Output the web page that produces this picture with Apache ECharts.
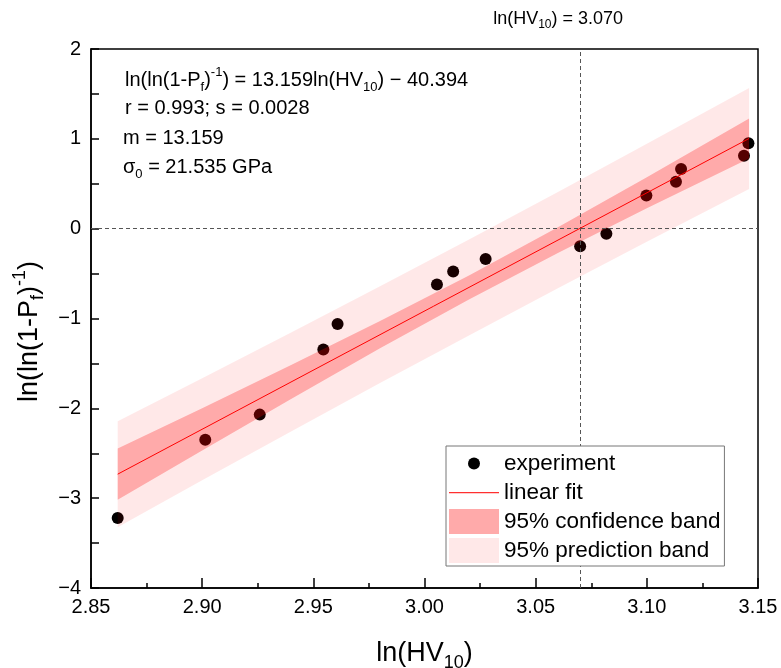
<!DOCTYPE html>
<html>
<head>
<meta charset="utf-8">
<script src="https://cdn.jsdelivr.net/npm/echarts@6/dist/echarts.min.js"></script>
<style>
  html, body { margin: 0; padding: 0; background: #fff; }
  #chart { width: 781px; height: 668px; }
</style>
</head>
<body>
<div id="chart"></div>
<script>
// measured points
const xExp = [2.862, 2.9014, 2.9259, 2.9545, 2.9609, 3.0056, 3.0129, 3.0275, 3.070, 3.0818, 3.0998, 3.1131, 3.1154, 3.1437, 3.1457];
const yExp = [-3.22, -2.35, -2.07, -1.344, -1.06, -0.622, -0.478, -0.337, -0.196, -0.056, 0.370, 0.522, 0.663, 0.811, 0.952];

// fit line ends
const fitX = [2.862, 3.146];
const fitY = [-2.733, 1.004];

// band edges, read along x
const bandX = [2.862, 2.90, 2.94, 2.98, 3.02, 3.06, 3.10, 3.146];
const confLow = [-3.018, -2.468, -1.895, -1.332, -0.788, -0.270, 0.227, 0.781];
const confHigh = [-2.448, -1.998, -1.518, -1.028, -0.520, 0.015, 0.571, 1.227];
const predLow = [-3.323, -2.801, -2.257, -1.719, -1.188, -0.664, -0.146, 0.441];
const predHigh = [-2.143, -1.665, -1.156, -0.641, -0.120, 0.409, 0.944, 1.567];

const vLineX = 3.070;
const hLineY = 0;

const FONT = 'Liberation Sans, Arial, sans-serif';

const chart = echarts.init(document.getElementById('chart'));

const richSmall = (size, lh) => ({
  a: { fontSize: size, fontFamily: FONT, color: '#000', lineHeight: lh },
  s: { fontSize: Math.round(size * 0.65), fontFamily: FONT, color: '#000', verticalAlign: 'bottom', lineHeight: Math.round(size * 0.65) },
  p: { fontSize: Math.round(size * 0.65), fontFamily: FONT, color: '#000', verticalAlign: 'top', lineHeight: Math.round(size * 0.65) }
});

function band(name, low, high, color, z) {
  return {
    type: 'custom',
    name: name,
    z: z,
    silent: true,
    itemStyle: { color: color },
    data: bandX.map((x, i) => [x, low[i], high[i]]),
    encode: { x: 0, y: [1, 2] },
    renderItem: (params, api) => {
      if (params.dataIndex !== 0) return null;
      const pts = [];
      for (let i = 0; i < bandX.length; i++) pts.push(api.coord([bandX[i], high[i]]));
      for (let i = bandX.length - 1; i >= 0; i--) pts.push(api.coord([bandX[i], low[i]]));
      return { type: 'polygon', shape: { points: pts }, style: { fill: color } };
    }
  };
}

const tickStyle = { color: '#000', width: 1.5 };

// legend dot: small circle inside a 50x25 box
const dotIcon = 'path://M0,0 M50,25 M31,12.5 A6,6 0 1,1 19,12.5 A6,6 0 1,1 31,12.5 Z';
const dashIcon = 'path://M0,0 M50,25 M0,12 L50,12 L50,13.2 L0,13.2 Z';

const option = {
  animation: false,
  grid: { left: 91, right: 23, top: 49, bottom: 80, outerBoundsMode: 'none', containLabel: false,
    show: true, borderColor: '#000', borderWidth: 1.5 },
  xAxis: {
    type: 'value', min: 2.85, max: 3.15, interval: 0.05,
    axisLine: { show: true, onZero: false, lineStyle: tickStyle },
    axisTick: { inside: true, length: 10, lineStyle: tickStyle },
    minorTick: { show: true, splitNumber: 2, length: 5, lineStyle: tickStyle },
    splitLine: { show: false },
    axisLabel: { fontSize: 20, color: '#000', fontFamily: FONT, margin: 9, formatter: v => v.toFixed(2) },
    name: '{a|ln(HV}{s|10}{a|)}',
    nameLocation: 'middle', nameGap: 48,
    nameTextStyle: { rich: richSmall(27, 36) }
  },
  yAxis: {
    type: 'value', min: -4, max: 2, interval: 1,
    axisLine: { show: true, onZero: false, lineStyle: tickStyle },
    axisTick: { inside: true, length: 8, lineStyle: tickStyle },
    minorTick: { show: true, splitNumber: 2, length: 8, lineStyle: tickStyle },
    splitLine: { show: false },
    axisLabel: { fontSize: 20, color: '#000', fontFamily: FONT, margin: 10,
      formatter: v => (v < 0 ? '\u2212' : '') + Math.abs(v) },
    name: '{a|ln(ln(1-P}{s|f}{a|)}{p|-1}{a|)}',
    nameLocation: 'middle', nameGap: 25,
    nameTextStyle: { rich: richSmall(27, 36), padding: [0, 26, 0, 0] }
  },
  legend: {
    orient: 'vertical', left: 446, top: 446, z: 10,
    padding: [5, 4, 3, 3], itemGap: 4, itemWidth: 50, itemHeight: 25,
    backgroundColor: '#fff', borderColor: '#777', borderWidth: 1,
    selectedMode: false,
    textStyle: { fontSize: 22.5, color: '#000', fontFamily: FONT },
    data: [
      { name: 'experiment', icon: dotIcon, itemStyle: { color: '#000', borderWidth: 0 } },
      { name: 'linear fit', icon: dashIcon,
        itemStyle: { color: '#ff3030', borderColor: '#ff3030', borderWidth: 0 },
        lineStyle: { color: '#ff3030', width: 1 } },
      { name: '95% confidence band', icon: 'rect', itemStyle: { color: '#ffaaaa', borderWidth: 0 } },
      { name: '95% prediction band', icon: 'rect', itemStyle: { color: '#ffe8e8', borderWidth: 0 } }
    ]
  },
  graphic: [
    { type: 'text', x: 125, y: 80, style: { text: '{a|ln(ln(1-P}{s|f}{a|)}{p|-1}{a|) = 13.159ln(HV}{s|10}{a|) \u2212 40.394}', rich: richSmall(20, 28), verticalAlign: 'middle' } },
    { type: 'text', x: 125, y: 108, style: { text: 'r = 0.993; s = 0.0028', fontSize: 20, fontFamily: FONT, fill: '#000', verticalAlign: 'middle' } },
    { type: 'text', x: 123, y: 138, style: { text: 'm = 13.159', fontSize: 20, fontFamily: FONT, fill: '#000', verticalAlign: 'middle' } },
    { type: 'text', x: 123, y: 167, style: { text: '{a|\u03c3}{s|0}{a| = 21.535 GPa}', rich: richSmall(20, 28), verticalAlign: 'middle' } }
  ],
  series: [
    {
      name: 'experiment', type: 'scatter', z: 2,
      symbol: 'circle', symbolSize: 12,
      itemStyle: { color: '#000', opacity: 1 },
      data: xExp.map((x, i) => [x, yExp[i]])
    },
    band('95% prediction band', predLow, predHigh, 'rgba(255,0,0,0.09)', 3),
    band('95% confidence band', confLow, confHigh, 'rgba(255,0,0,0.27)', 4),
    {
      name: 'linear fit', type: 'line', z: 5,
      symbol: 'none', silent: true,
      lineStyle: { color: '#ff0000', width: 1 },
      itemStyle: { color: '#ff0000' },
      data: fitX.map((x, i) => [x, fitY[i]]),
      markLine: {
        silent: true, symbol: 'none',
        lineStyle: { color: '#555', type: [4, 3], width: 1 },
        data: [
          { xAxis: vLineX,
            label: { show: true, position: 'end', distance: 18, offset: [-22, 0],
              formatter: '{a|ln(HV}{s|10}{a|) = 3.070}', rich: richSmall(18, 24) } },
          { yAxis: hLineY, label: { show: false } }
        ]
      }
    }
  ]
};

chart.setOption(option);
</script>
</body>
</html>
